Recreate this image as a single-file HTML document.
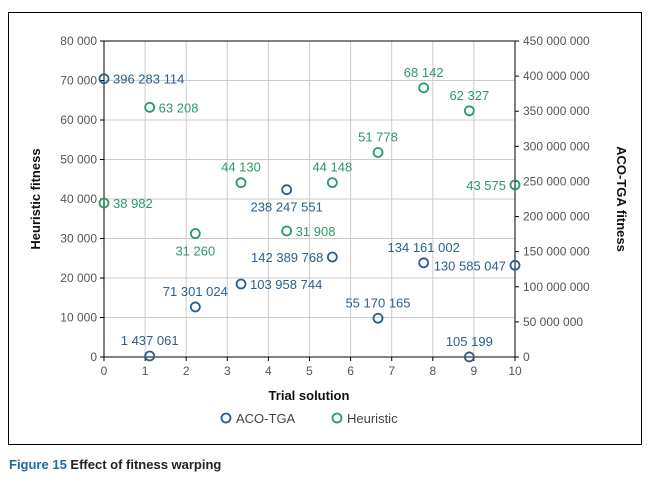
<!DOCTYPE html>
<html><head><meta charset="utf-8"><style>
body{margin:0;background:#fff;width:652px;height:481px;overflow:hidden;font-family:"Liberation Sans",sans-serif}
svg text{font-family:"Liberation Sans",sans-serif}
</style></head><body>
<svg id="c" width="652" height="481">
<rect x="8.5" y="12.5" width="633" height="432" fill="none" stroke="#000" stroke-width="1"/>
<g id="grid"></g><g id="axes"></g><g id="marks"></g>
<text x="40" y="199" transform="rotate(-90 40 199)" text-anchor="middle" font-size="13" font-weight="bold" fill="#111">Heuristic fitness</text>
<text x="617" y="199" transform="rotate(90 617 199)" text-anchor="middle" font-size="13" font-weight="bold" fill="#111">ACO-TGA fitness</text>
<text x="309" y="400" text-anchor="middle" font-size="13" font-weight="bold" fill="#111">Trial solution</text>
<g><circle cx="226" cy="418" r="4.5" fill="none" stroke="#2a5f8f" stroke-width="1.8"/><text x="236" y="423" font-size="13" fill="#444">ACO-TGA</text></g>
<g><circle cx="337" cy="418" r="4.5" fill="none" stroke="#2a9a6a" stroke-width="1.8"/><text x="347" y="423" font-size="13" fill="#444">Heuristic</text></g>
<text x="9" y="469" font-size="13" font-weight="bold"><tspan fill="#1a6aa8">Figure 15</tspan><tspan fill="#222"> Effect of fitness warping</tspan></text>
</svg>
<script>
const xCats=[0,10/9,20/9,30/9,40/9,50/9,60/9,70/9,80/9,10];
const heurVals=[38982,63208,31260,44130,31908,44148,51778,68142,62327,43575];
const heurLabels=["38 982","63 208","31 260","44 130","31 908","44 148","51 778","68 142","62 327","43 575"];
const acoVals=[396283114,1437061,71301024,103958744,238247551,142389768,55170165,134161002,105199,130585047];
const acoLabels=["396 283 114","1 437 061","71 301 024","103 958 744","238 247 551","142 389 768","55 170 165","134 161 002","105 199","130 585 047"];
const xTicks=[0,1,2,3,4,5,6,7,8,9,10];
const leftTicks=[0,10000,20000,30000,40000,50000,60000,70000,80000];
const rightTicks=[0,50e6,100e6,150e6,200e6,250e6,300e6,350e6,400e6,450e6];
const heurPos=['r','r','b','t','r','t','t','t','t','l'];
const acoPos=['r','t','t','r','b','l','t','t','t','l'];
const L=104,R=515,T=41,B=357;
const sx=v=>L+(R-L)*v/10, syl=v=>B-(B-T)*v/80000, syr=v=>B-(B-T)*v/450e6;
const NS="http://www.w3.org/2000/svg";
function mk(p,t,a){const e=document.createElementNS(NS,t);for(const k in a)e.setAttribute(k,a[k]);document.getElementById(p).appendChild(e);return e;}
const fmt=v=>String(v).replace(/\B(?=(\d{3})+(?!\d))/g," ");
xTicks.forEach(v=>{if(v>0&&v<10){const g=mk('grid','line',{x1:sx(v),x2:sx(v),y1:T,y2:B,stroke:'#ccc'});

}
const t=mk('axes','text',{x:sx(v),y:B+18,'text-anchor':'middle','font-size':12,fill:'#555'});t.textContent=v;


mk('axes','line',{x1:sx(v),x2:sx(v),y1:B,y2:B+4,stroke:'#000'});});
leftTicks.forEach(v=>{if(v>0&&v<80000){const g=mk('grid','line',{x1:L,x2:R,y1:syl(v),y2:syl(v),stroke:'#ccc'});

}
mk('axes','line',{x1:L-4,x2:L,y1:syl(v),y2:syl(v),stroke:'#000'});
const t=mk('axes','text',{x:L-7,y:syl(v)+4,'text-anchor':'end','font-size':12,fill:'#555'});t.textContent=fmt(v);

});
rightTicks.forEach(v=>{mk('axes','line',{x1:R,x2:R+4,y1:syr(v),y2:syr(v),stroke:'#000'});
const t=mk('axes','text',{x:R+8,y:syr(v)+4,'font-size':12,fill:'#555'});t.textContent=fmt(v);

});
mk('axes','line',{x1:L,x2:R,y1:T,y2:T,stroke:'#000'});
mk('axes','line',{x1:L,x2:L,y1:T,y2:B,stroke:'#000'});
mk('axes','line',{x1:R,x2:R,y1:T,y2:B,stroke:'#000'});
mk('axes','line',{x1:L,x2:R,y1:B,y2:B,stroke:'#000'});
function series(vals,labs,pos,sy,col,name){vals.forEach((v,i)=>{const x=sx(xCats[i]),y=sy(v);
const c=mk('marks','circle',{cx:x,cy:y,r:4.5,fill:'none',stroke:col,'stroke-width':1.8});


const p=pos[i];let a={'font-size':13,fill:col};
if(p=='r'){a.x=x+9;a.y=y+5;}else if(p=='l'){a.x=x-9;a.y=y+5;a['text-anchor']='end';}
else if(p=='t'){a.x=x;a.y=y-11;a['text-anchor']='middle';}else{a.x=x;a.y=y+22;a['text-anchor']='middle';}
const t=mk('marks','text',a);t.textContent=labs[i];

});}
series(acoVals,acoLabels,acoPos,syr,'#2a5f8f','aco');
series(heurVals,heurLabels,heurPos,syl,'#2a9a6a','heuristic');
</script>
</body></html>
